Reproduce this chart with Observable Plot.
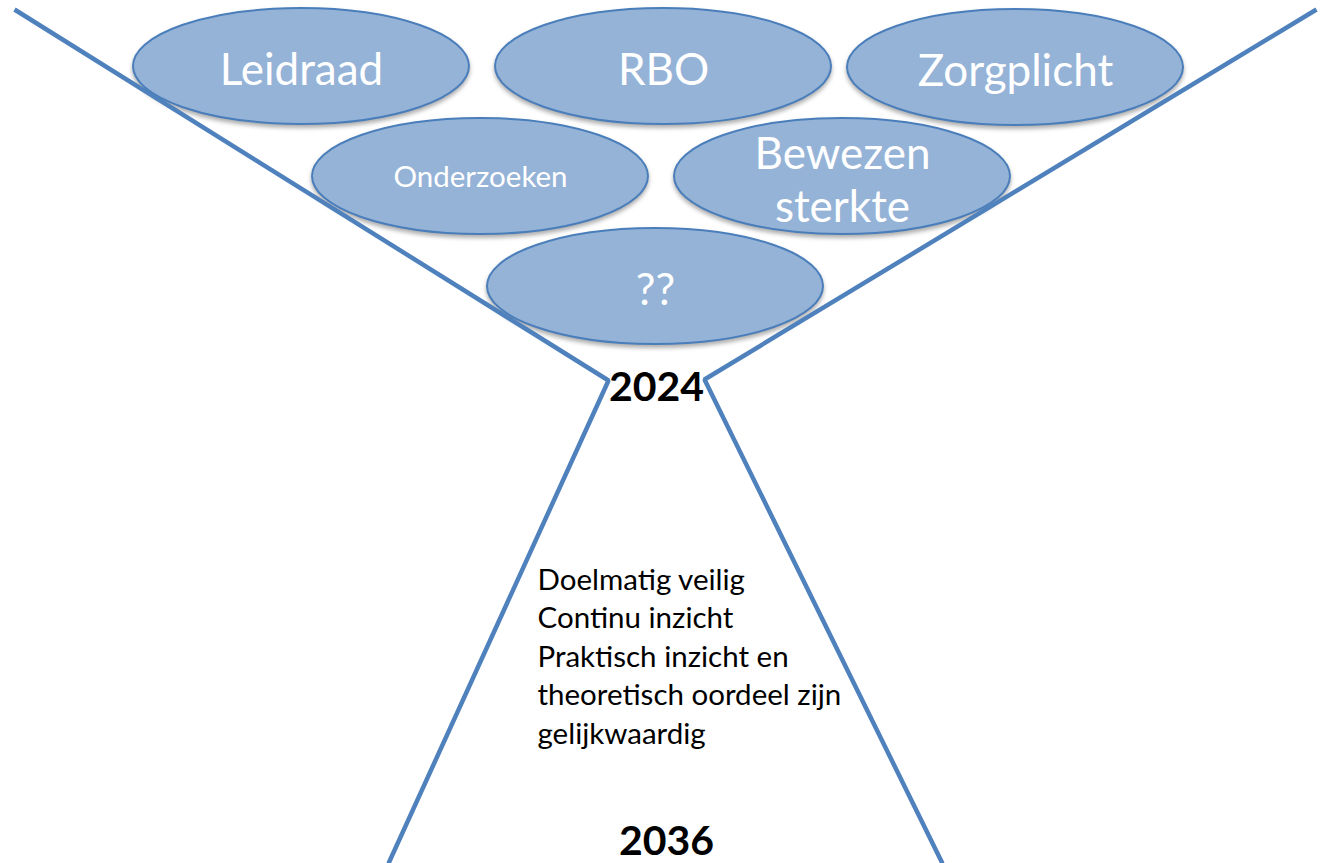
<!DOCTYPE html>
<html>
<head>
<meta charset="utf-8">
<script src="https://cdn.jsdelivr.net/npm/d3@7"></script>
<script src="https://cdn.jsdelivr.net/npm/@observablehq/plot@0.6"></script>
<style>
  html, body { margin: 0; padding: 0; background: #fff; }
  #chart svg { display: block; }
</style>
</head>
<body>
<div id="chart"></div>
<script>
// Ellipse labels and their centres (diagram units = pixels of the reference)
const bubbleLabels = ["Leidraad", "RBO", "Zorgplicht", "Onderzoeken", "Bewezen\nsterkte", "??"];
const bubbleX = [301, 663, 1015, 480, 842, 655];
const bubbleY = [66, 66, 67, 176, 176, 286];
const bubbleSmall = [false, false, false, true, false, false];

// Funnel outline (two polylines)
const funnelSide = ["left", "left", "left", "right", "right", "right"];
const funnelX = [14, 608, 388, 1316, 704, 942];
const funnelY = [9, 380, 863, 9, 379, 863];

// Years and statement
const yearLabels = ["2024", "2036"];
const yearX = [656, 666];
const yearY = [387, 841];
const statementLines = ["Doelmatig veilig", "Continu inzicht", "Praktisch inzicht en", "theoretisch oordeel zijn", "gelijkwaardig"];
const statementX = 537;
const statementY = 562;

const bubbles = bubbleLabels.map((label, i) => ({label, cx: bubbleX[i], cy: bubbleY[i], small: bubbleSmall[i]}));
const funnel = funnelSide.map((side, i) => ({side, x: funnelX[i], y: funnelY[i]}));
const years = yearLabels.map((label, i) => ({label, x: yearX[i], y: yearY[i]}));

const RX = 168, RY = 58;

function ellipses(data) {
  return Plot.dot(data, {
    x: "cx", y: "cy",
    render(index, scales, values) {
      const g = d3.create("svg:g");
      for (const i of index) {
        const d = data[i];
        g.append("ellipse")
          .attr("cx", values.x[i])
          .attr("cy", values.y[i])
          .attr("rx", Math.abs(scales.x(d.cx + RX) - scales.x(d.cx)))
          .attr("ry", Math.abs(scales.y(d.cy + RY) - scales.y(d.cy)))
          .attr("fill", "#95b3d7")
          .attr("stroke", "#4a7ebb")
          .attr("stroke-width", 2)
          .style("filter", "drop-shadow(0px 3px 2px rgba(0,0,0,0.32))");
      }
      return g.node();
    }
  });
}

const font = "Lato, 'Open Sans', sans-serif";

const chart = Plot.plot({
  width: 1323,
  height: 863,
  margin: 0,
  x: {domain: [0, 1323], range: [0, 1323], axis: null},
  y: {domain: [0, 863], range: [0, 863], axis: null},
  style: {background: "#fff", fontFamily: font},
  marks: [
    ellipses(bubbles),
    Plot.text(bubbles.filter(d => !d.small), {
      x: "cx", y: "cy", text: "label",
      fill: "#fff", fontSize: 44, lineHeight: 1.2, fontFamily: font,
      dy: 2
    }),
    Plot.text(bubbles.filter(d => d.small), {
      x: "cx", y: "cy", text: "label",
      fill: "#fff", fontSize: 29.5, fontFamily: font, dy: 1
    }),
    Plot.line(funnel, {
      x: "x", y: "y", z: "side",
      stroke: "#4f81bd", strokeWidth: 4.5, strokeLinejoin: "miter", strokeLinecap: "butt"
    }),
    Plot.text(years, {
      x: "x", y: "y", text: "label",
      fill: "#000", fontSize: 41, fontWeight: "bold", fontFamily: font, lineAnchor: "middle"
    }),
    Plot.text([statementLines.join("\n")], {
      x: () => statementX, y: () => statementY, text: d => d,
      textAnchor: "start", lineAnchor: "top", lineHeight: 1.305,
      fill: "#000", fontSize: 29.5, fontFamily: font
    })
  ]
});

document.getElementById("chart").append(chart);
</script>
</body>
</html>
